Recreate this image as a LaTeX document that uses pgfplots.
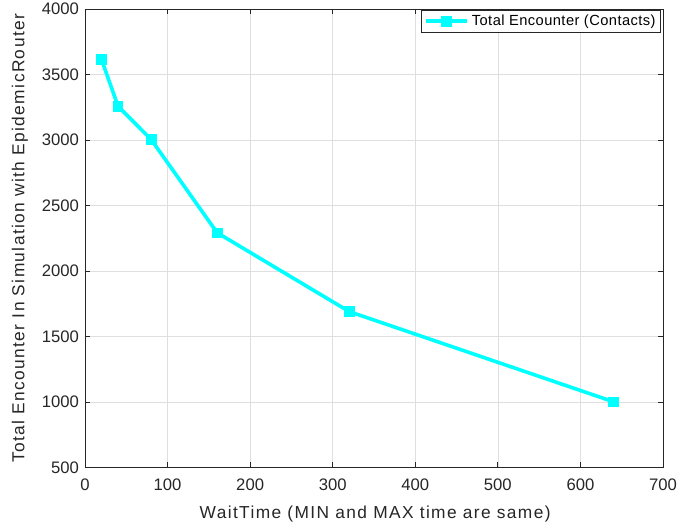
\documentclass[border=0pt]{standalone}
\usepackage{fontspec}
\setmainfont{Liberation Sans}
\newfontfamily\labfont[LetterSpace=8]{Liberation Sans}
\newfontfamily\legfont[LetterSpace=3]{Liberation Sans}
\usepackage{pgfplots}
\pgfplotsset{compat=1.18}
\definecolor{axgray}{gray}{0.15}
\definecolor{linecyan}{RGB}{0,255,255}
\begin{document}
\begin{tikzpicture}
\begin{axis}[
  name=ax,
  scale only axis,
  width=433.5pt, height=344pt,
  xmin=0, xmax=700, ymin=500, ymax=4000,
  xtick={0,100,...,700},
  ytick={500,1000,...,4000},
  /pgf/number format/assume math mode=true,
  /pgf/number format/1000 sep={},
  tick align=inside,
  tick pos=both,
  major tick length=4pt,
  axis line style={axgray, line width=0.6pt},
  tick style={axgray, line width=0.6pt},
  ticklabel style={font=\fontsize{12.5}{14}\selectfont, text=axgray},
  xticklabel style={yshift=-5pt},
  yticklabel style={xshift=-1pt},
  grid=major,
  grid style={gray!25, line width=0.5pt},
  xlabel={WaitTime (MIN and MAX time are same)},
  ylabel={Total Encounter In Simulation with EpidemicRouter},
  every axis x label/.style={at={(axis description cs:0.502,-0.1003)}, anchor=center, font=\fontsize{13}{15}\labfont, text=axgray},
  every axis y label/.style={at={(axis description cs:-0.1125,0.5)}, rotate=90, anchor=center, font=\fontsize{13}{15}\labfont, text=axgray},
  legend style={font=\fontsize{11}{13}\legfont, draw=axgray, line width=0.6pt, inner sep=1.5pt, row sep=0pt, at={(0.996,0.998)}, anchor=north east, legend cell align=left},
  legend image code/.code={
    \draw[mark repeat=2, mark phase=2, #1] plot coordinates {(0cm,0cm) (0.55cm,0cm) (1.1cm,0cm)};
  },
]
\addplot[linecyan, line width=2.7pt, mark=square*, mark size=3.6pt, mark options={solid, fill=linecyan, line width=0.5pt}]
coordinates {(20,3615) (40,3258) (80,3005) (160,2293) (320,1691) (640,1003)};
\addlegendentry{Total Encounter (Contacts)}
\end{axis}
\pgfresetboundingbox
\path ([xshift=-63.75pt,yshift=-45.75pt]ax.south west) rectangle ([xshift=11.25pt,yshift=6.75pt]ax.north east);
\end{tikzpicture}
\end{document}
